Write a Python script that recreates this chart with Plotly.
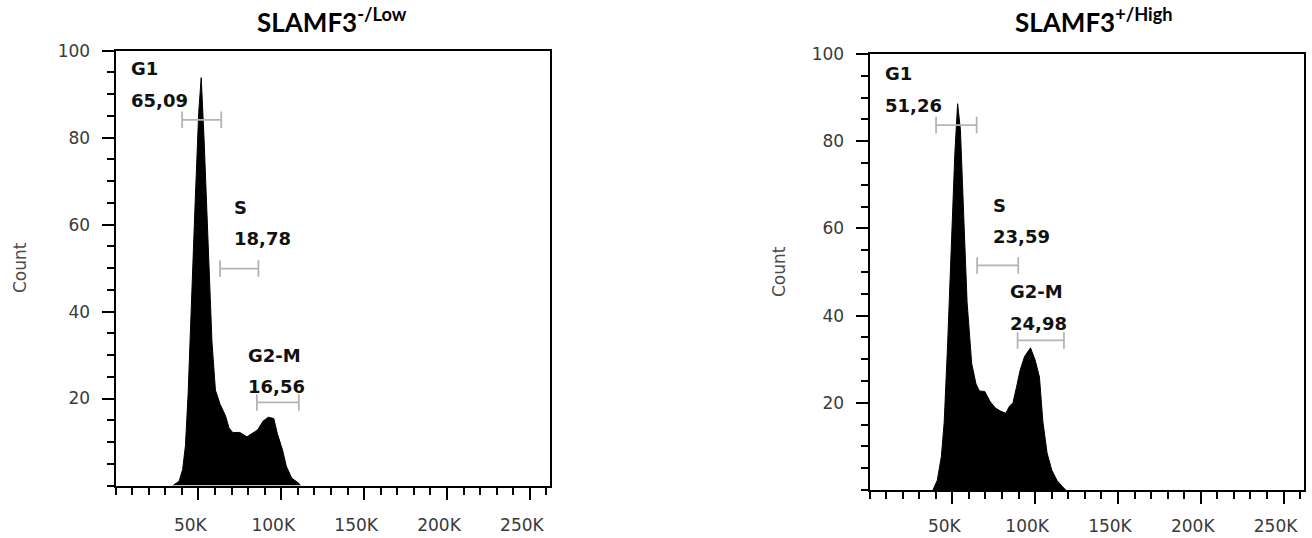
import plotly.graph_objects as go

W, H = 1312, 538

# ---------------- data ----------------
# Left panel: SLAMF3-/Low histogram (DNA content, counts)
low_x = [34.7, 38.4, 40.5, 42.2, 43.8, 45.9, 48.0, 50.2, 51.7, 53.4, 55.6, 58.2, 60.3,
         63.1, 66.4, 68.5, 70.7, 75.0, 79.3, 82.5, 85.8, 89.0, 92.2, 95.5, 97.6, 100.9,
         103.0, 106.3, 110.6, 111.6]
low_y = [0, 1, 3.7, 9.2, 21, 40.8, 64.5, 85.8, 93.8, 80, 56.6, 33, 21.9,
         18.7, 16, 13.2, 12.2, 12.2, 11.2, 12, 12.8, 14.8, 15.7, 15.4, 12, 8,
         4.5, 1.7, 0.5, 0]

# Right panel: SLAMF3+/High histogram
high_x = [38.3, 40.9, 43.4, 45.1, 47.2, 49.4, 51.5, 53.2, 54.9, 56.8, 58.9, 61.7, 64.3,
          66.4, 69.6, 72.8, 76.0, 79.1, 82.3, 84.5, 86.6, 88.7, 90.9, 93.6, 97.2, 100.0,
          102.6, 104.7, 107.2, 110.0, 113.2, 116.4, 118.5]
high_y = [0, 2.2, 7.7, 15.6, 33.8, 57.4, 77, 88.6, 82.6, 63.7, 43.2, 29, 24.3,
          22.7, 22.6, 20.3, 18.8, 18.1, 17.6, 19.2, 20, 23.5, 27.4, 30.6, 32.6, 29.8,
          25.9, 15.6, 8.5, 4.6, 2.2, 0.8, 0]

gate_names = ["G1", "S", "G2-M"]
low_pct = ["65,09", "18,78", "16,56"]
high_pct = ["51,26", "23,59", "24,98"]
# gate ranges (K) and bar level (count)
low_gate_x0 = [40.2, 63.1, 85.3]
low_gate_x1 = [63.8, 86.2, 110.6]
low_gate_y = [84.1, 49.9, 19.1]
high_gate_x0 = [40.2, 65.0, 89.4]
high_gate_x1 = [64.7, 89.8, 117.4]
high_gate_y = [83.7, 51.5, 34.3]
# label anchor (left x in K, name y, value y)
low_lab_x = [8.3, 70.5, 78.9]
low_lab_name_y = [96, 64, 29.8]
low_lab_val_y = [88.5, 56.8, 22.7]
high_lab_x = [8.3, 73.3, 83.4]
high_lab_name_y = [95.6, 65.3, 45.6]
high_lab_val_y = [88.3, 58.2, 38.1]

x_ticks = [50, 100, 150, 200, 250]
x_tick_text = ["50K", "100K", "150K", "200K", "250K"]
y_ticks = [20, 40, 60, 80, 100]
y_tick_text = ["20", "40", "60", "80", "100"]
titles = ["SLAMF3<sup>-/Low</sup>", "SLAMF3<sup>+/High</sup>"]
y_title = "Count"

# ---------------- layout geometry ----------------
LEFT_DOM_X = [115.5 / W, 550 / W]
LEFT_DOM_Y = [1 - 485.5 / H, 1 - 50.7 / H]
RIGHT_DOM_X = [869.5 / W, 1303.7 / W]
RIGHT_DOM_Y = [1 - 490 / H, 1 - 54 / H]

TICK_FONT = dict(family="DejaVu Sans", size=17, color="#3a3a3a")
LAB_FONT = dict(family="DejaVu Sans", size=18, color="#111111")
GATE_COLOR = "#b4b4b4"
CAP = 1.9

fig = go.Figure()


def gate_trace(x0s, x1s, ys, xa, ya):
    xs, yy = [], []
    for a, b, y in zip(x0s, x1s, ys):
        xs += [a * 1000, b * 1000, None, a * 1000, a * 1000, None, b * 1000, b * 1000, None]
        yy += [y, y, None, y - CAP, y + CAP, None, y - CAP, y + CAP, None]
    return go.Scatter(x=xs, y=yy, mode="lines", xaxis=xa, yaxis=ya,
                      line=dict(color=GATE_COLOR, width=1.8), hoverinfo="skip",
                      showlegend=False)


for hx, hy, xa, ya in [(low_x, low_y, "x", "y"), (high_x, high_y, "x2", "y2")]:
    fig.add_trace(go.Scatter(x=[v * 1000 for v in hx], y=hy, mode="lines", fill="tozeroy",
                             fillcolor="black", line=dict(color="black", width=1),
                             xaxis=xa, yaxis=ya, showlegend=False))

fig.add_trace(gate_trace(low_gate_x0, low_gate_x1, low_gate_y, "x", "y"))
fig.add_trace(gate_trace(high_gate_x0, high_gate_x1, high_gate_y, "x2", "y2"))

annotations = []
for names, pct, lx, ny, vy, xr, yr in [
    (gate_names, low_pct, low_lab_x, low_lab_name_y, low_lab_val_y, "x", "y"),
    (gate_names, high_pct, high_lab_x, high_lab_name_y, high_lab_val_y, "x2", "y2"),
]:
    for n, p, x, y1, y2 in zip(names, pct, lx, ny, vy):
        annotations.append(dict(text=f"<b>{n}</b>", x=x * 1000, y=y1, xref=xr, yref=yr,
                                xanchor="left", yanchor="middle", showarrow=False, font=LAB_FONT))
        annotations.append(dict(text=f"<b>{p}</b>", x=x * 1000, y=y2, xref=xr, yref=yr,
                                xanchor="left", yanchor="middle", showarrow=False, font=LAB_FONT))

# titles
for t, cx in zip(titles, [331.5, 1094]):
    annotations.append(dict(text=f"<b>{t}</b>", x=cx / W, y=1 - 21 / H, xref="paper", yref="paper",
                            xanchor="center", yanchor="middle", showarrow=False,
                            font=dict(family="Lato", size=26, color="black")))
# y titles
for cx, cy in [(20, 268), (779, 272)]:
    annotations.append(dict(text=y_title, x=cx / W, y=1 - cy / H, xref="paper", yref="paper",
                            xanchor="center", yanchor="middle", showarrow=False, textangle=-90,
                            font=dict(family="DejaVu Sans", size=17, color="#4a4a4a")))

xaxis_common = dict(range=[0, 262144], tickvals=[v * 1000 for v in x_ticks], ticktext=x_tick_text,
                    showline=True, linecolor="black", linewidth=2, mirror=True,
                    ticks="outside", ticklen=12, tickwidth=2, tickcolor="black",
                    minor=dict(dtick=10000, ticks="outside", ticklen=7, tickwidth=1.5,
                               tickcolor="black", showgrid=False),
                    showgrid=False, zeroline=False, tickfont=TICK_FONT, automargin=False,
                    ticklabelshift=-8, fixedrange=True)
yaxis_common = dict(range=[0, 100], tickvals=y_ticks, ticktext=y_tick_text,
                    showline=True, linecolor="black", linewidth=2, mirror=True,
                    ticks="outside", ticklen=12, tickwidth=2, tickcolor="black",
                    minor=dict(dtick=5, ticks="outside", ticklen=7, tickwidth=1.5,
                               tickcolor="black", showgrid=False),
                    showgrid=False, zeroline=False, tickfont=TICK_FONT, automargin=False,
                    ticklabelstandoff=8, fixedrange=True)

fig.update_layout(
    template="none",
    width=W, height=H, margin=dict(l=0, r=0, t=0, b=0, autoexpand=False),
    paper_bgcolor="white", plot_bgcolor="white",
    xaxis=dict(domain=LEFT_DOM_X, anchor="y", ticklabelstandoff=11, **xaxis_common),
    yaxis=dict(domain=LEFT_DOM_Y, anchor="x", **yaxis_common),
    xaxis2=dict(domain=RIGHT_DOM_X, anchor="y2", ticklabelstandoff=8, **xaxis_common),
    yaxis2=dict(domain=RIGHT_DOM_Y, anchor="x2", **yaxis_common),
    annotations=annotations, showlegend=False,
)

page_fix = (
    "var d=document.documentElement,b=document.body;"
    "d.style.margin='0';d.style.padding='0';d.style.overflow='hidden';"
    "b.style.margin='0';b.style.padding='0';b.style.overflow='hidden';"
)
fig.write_html("out.html", config={"displayModeBar": False, "responsive": False},
               post_script=page_fix)
